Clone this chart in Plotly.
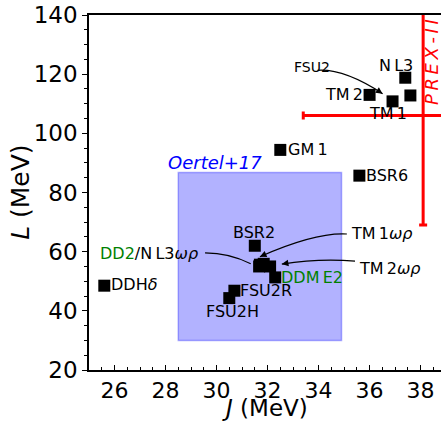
import plotly.graph_objects as go

# Symmetry energy J and its slope L for each model (MeV)
models = ["NL3", "FSU2", "TM2", "TM1", "GM1", "BSR6", "BSR2", "DD2", "NL3wr",
          "TM1wr", "TM2wr", "DDME2", "FSU2R", "FSU2H", "DDHd"]
J_vals = [37.4, 37.6, 36.0, 36.9, 32.5, 35.6, 31.5, 31.67, 31.7,
          31.85, 32.1, 32.3, 30.7, 30.5, 25.6]
L_vals = [118.8, 112.8, 113.0, 110.8, 94.4, 85.7, 62.0, 55.0, 55.6,
          55.9, 55.0, 51.3, 46.8, 44.3, 48.5]

# Oertel+17 constraint box
oertel_J = [28.5, 34.9]
oertel_L = [30.0, 86.8]

# PREX-II estimate with uncertainties
prex_J, prex_dJ = 38.1, 4.7
prex_L, prex_dL = 106.0, 37.0

FONT = "DejaVu Sans"
TS = "\u2009"  # thin space used for the loose label spacing

fig = go.Figure()

fig.add_shape(type="rect", xref="x", yref="y",
              x0=oertel_J[0], x1=oertel_J[1], y0=oertel_L[0], y1=oertel_L[1],
              fillcolor="rgba(0,0,255,0.3)", line=dict(color="rgba(0,0,255,0.3)", width=1.5),
              layer="below")

fig.add_trace(go.Scatter(
    x=J_vals, y=L_vals, mode="markers",
    marker=dict(symbol="square", size=12, color="black", line=dict(width=0)),
    hoverinfo="text", text=models, showlegend=False))

fig.add_trace(go.Scatter(
    x=[prex_J], y=[prex_L], mode="markers",
    marker=dict(size=1, color="rgba(0,0,0,0)"),
    error_x=dict(type="data", array=[prex_dJ], color="red", thickness=3, width=4),
    error_y=dict(type="data", array=[prex_dL], color="red", thickness=3, width=4),
    showlegend=False, hoverinfo="skip"))

annotations = []


def label(text, x, y, size=16, color="black", xanchor="center", italic=False, angle=0):
    annotations.append(dict(
        x=x, y=y, xref="x", yref="y", text=f"<i>{text}</i>" if italic else text,
        showarrow=False, xanchor=xanchor, yanchor="middle", textangle=angle,
        borderpad=0, font=dict(family=FONT, size=size, color=color)))


label(f"N{TS}L3", 37.02, 122.8)
label(f"FSU2", 33.75, 122.3, size=14)
label(f"TM{TS}2", 35.8, 113.0, xanchor="right")
label(f"TM{TS}1", 36.74, 106.8)
label(f"GM{TS}1", 32.76, 94.6, xanchor="left")
label("BSR6", 35.82, 85.7, xanchor="left")
label("Oertel+17", 29.92, 90.2, size=18, color="blue", italic=True)
label("BSR2", 31.47, 66.6)
label(f"TM{TS}1<i>ωρ</i>", 36.5, 66.2)
label(f"<span style='color:green'>DD2</span>/N{TS}L3<i>ωρ</i>", 27.36, 59.5)
label(f"TM{TS}2<i>ωρ</i>", 36.8, 54.4)
label(f"DDM{TS}E2", 32.48, 51.3, color="green", xanchor="left")
label("FSU2R", 30.9, 46.9, xanchor="left")
label("FSU2H", 30.62, 39.8)
label("DDH<i>δ</i>", 25.84, 48.9, xanchor="left")
label(TS.join("PREX-II"), 38.42, 124.2, size=18, color="red", italic=True, angle=-90)

# Curved pointer arrows: (start, control, tip)
arrows = [
    ((33.96, 121.3), (35.0, 121.9), (36.51, 113.4)),
    ((35.11, 65.97), (33.88, 66.6), (31.7, 58.3)),
    ((29.55, 59.6), (30.5, 59.6), (31.34, 55.9)),
    ((35.43, 56.8), (34.0, 57.8), (32.56, 55.8)),
]
for (x0, y0), (cx, cy), (x1, y1) in arrows:
    fig.add_shape(type="path", xref="x", yref="y",
                  path=f"M {x0},{y0} Q {cx},{cy} {x1},{y1}",
                  line=dict(color="black", width=1.2))
    annotations.append(dict(
        x=x1, y=y1, ax=x1 + 0.12 * (cx - x1), ay=y1 + 0.12 * (cy - y1),
        xref="x", yref="y", axref="x", ayref="y", text="", showarrow=True,
        arrowhead=2, arrowsize=1.1, arrowwidth=1.2, arrowcolor="black", standoff=0))

# Axis titles
annotations.append(dict(x=0.5, y=-0.107, xref="paper", yref="paper",
                        text="<i>J</i> (MeV)", showarrow=False, xanchor="center",
                        yanchor="middle", borderpad=0,
                        font=dict(family=FONT, size=23, color="black")))
annotations.append(dict(x=-0.195, y=0.5, xref="paper", yref="paper",
                        text="<i>L</i> (MeV)", showarrow=False, xanchor="center",
                        yanchor="middle", textangle=-90, borderpad=0,
                        font=dict(family=FONT, size=25, color="black")))

fig.update_layout(
    width=441, height=423,
    margin=dict(l=89, r=0, t=15, b=53),
    paper_bgcolor="white", plot_bgcolor="white",
    annotations=annotations,
    font=dict(family=FONT, color="black"),
    xaxis=dict(range=[25, 38.8], dtick=2, tick0=26, showgrid=False, zeroline=False,
               showline=True, linecolor="black", linewidth=1.5, mirror=True,
               ticks="inside", ticklen=5, tickwidth=1, tickcolor="black",
               minor=dict(dtick=0.5, ticks="inside", ticklen=3, tickcolor="black"),
               tickfont=dict(family=FONT, size=22, color="black")),
    yaxis=dict(range=[20, 140], dtick=20, showgrid=False, zeroline=False,
               showline=True, linecolor="black", linewidth=1.5,
               ticks="outside", ticklen=5, tickwidth=1, tickcolor="black",
               minor=dict(dtick=5, ticks="outside", ticklen=3, tickcolor="black"),
               tickfont=dict(family=FONT, size=23, color="black")),
)

fig.write_html("out.html")
